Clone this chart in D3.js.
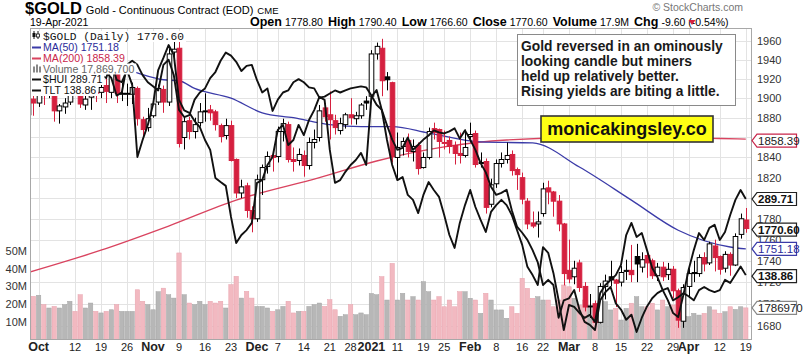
<!DOCTYPE html>
<html><head><meta charset="utf-8">
<script src="https://cdn.jsdelivr.net/npm/d3@7"></script>
<style>body{margin:0;background:#fff}svg{display:block}text{font-family:"Liberation Sans",Arial,sans-serif}</style>
</head><body>
<svg id="c" width="803" height="358"></svg>
<script>
const dates = ["2020-09-29","2020-09-30",
"2020-10-01","2020-10-02","2020-10-05","2020-10-06","2020-10-07","2020-10-08","2020-10-09","2020-10-12","2020-10-13","2020-10-14","2020-10-15","2020-10-16","2020-10-19","2020-10-20","2020-10-21","2020-10-22","2020-10-23","2020-10-26","2020-10-27","2020-10-28","2020-10-29","2020-10-30",
"2020-11-02","2020-11-03","2020-11-04","2020-11-05","2020-11-06","2020-11-09","2020-11-10","2020-11-11","2020-11-12","2020-11-13","2020-11-16","2020-11-17","2020-11-18","2020-11-19","2020-11-20","2020-11-23","2020-11-24","2020-11-25","2020-11-27","2020-11-30",
"2020-12-01","2020-12-02","2020-12-03","2020-12-04","2020-12-07","2020-12-08","2020-12-09","2020-12-10","2020-12-11","2020-12-14","2020-12-15","2020-12-16","2020-12-17","2020-12-18","2020-12-21","2020-12-22","2020-12-23","2020-12-24","2020-12-28","2020-12-29","2020-12-30","2020-12-31",
"2021-01-04","2021-01-05","2021-01-06","2021-01-07","2021-01-08","2021-01-11","2021-01-12","2021-01-13","2021-01-14","2021-01-15","2021-01-19","2021-01-20","2021-01-21","2021-01-22","2021-01-25","2021-01-26","2021-01-27","2021-01-28","2021-01-29",
"2021-02-01","2021-02-02","2021-02-03","2021-02-04","2021-02-05","2021-02-08","2021-02-09","2021-02-10","2021-02-11","2021-02-12","2021-02-16","2021-02-17","2021-02-18","2021-02-19","2021-02-22","2021-02-23","2021-02-24","2021-02-25","2021-02-26",
"2021-03-01","2021-03-02","2021-03-03","2021-03-04","2021-03-05","2021-03-08","2021-03-09","2021-03-10","2021-03-11","2021-03-12","2021-03-15","2021-03-16","2021-03-17","2021-03-18","2021-03-19","2021-03-22","2021-03-23","2021-03-24","2021-03-25","2021-03-26","2021-03-29","2021-03-30","2021-03-31",
"2021-04-01","2021-04-05","2021-04-06","2021-04-07","2021-04-08","2021-04-09","2021-04-12","2021-04-13","2021-04-14","2021-04-15","2021-04-16","2021-04-19"];

const open = [1883,1899,
1895,1913,1905,1919,1887,1891,1896,1930,1924,1893,1901,1905,1906,1913,1906,1926,1905,1905,1904,1910,1878,1870,
1882,1896,1909,1896,1948,1952,1860,1877,1866,1875,1887,1888,1886,1872,1862,1872,1838,1805,1812,1788,
1780,1818,1831,1842,1841,1866,1873,1838,1837,1842,1832,1855,1860,1890,1883,1877,1867,1873,1883,1879,1882,1897,
1902,1946,1952,1922,1916,1840,1851,1857,1846,1852,1830,1840,1869,1868,1855,1857,1852,1844,1842,
1861,1864,1835,1836,1794,1814,1834,1838,1843,1828,1820,1797,1776,1775,1785,1810,1806,1797,1775,
1731,1725,1738,1716,1698,1700,1683,1716,1725,1722,1720,1730,1731,1744,1734,1745,1740,1726,1734,1727,1732,1712,1684,
1716,1729,1728,1743,1738,1754,1744,1733,1746,1736,1765,1778.8];
const high = [1903,1904,
1917,1920,1921,1926,1894,1900,1933,1936,1925,1911,1909,1913,1922,1921,1931,1927,1916,1915,1916,1912,1881,1890,
1898,1914,1913,1952,1965,1966,1881,1881,1880,1895,1905,1893,1888,1874,1879,1877,1839,1818,1815,1792,
1823,1833,1846,1847,1871,1879,1876,1850,1849,1847,1860,1868,1893,1895,1907,1883,1880,1885,1900,1886,1895,1902,
1950,1958,1962,1927,1917,1865,1860,1864,1858,1855,1845,1870,1875,1869,1867,1861,1856,1865,1868,
1875,1867,1845,1839,1819,1838,1845,1855,1847,1830,1825,1800,1787,1787,1815,1817,1807,1803,1776,
1760,1740,1741,1720,1709,1703,1719,1727,1740,1723,1735,1741,1755,1756,1748,1747,1742,1738,1739,1738,1735,1714,1718,
1733,1740,1746,1748,1758,1760,1745,1749,1748,1766,1785,1790.4];
const low = [1876,1882,
1891,1893,1900,1876,1874,1884,1893,1918,1890,1888,1888,1896,1900,1895,1900,1895,1897,1892,1894,1872,1860,1866,
1880,1893,1885,1892,1938,1850,1848,1858,1859,1871,1876,1877,1867,1855,1858,1836,1800,1800,1781,1767,
1777,1803,1824,1826,1835,1856,1835,1826,1832,1821,1828,1849,1856,1876,1858,1863,1863,1869,1873,1873,1879,1888,
1900,1940,1902,1908,1835,1817,1842,1840,1836,1823,1829,1838,1858,1840,1848,1844,1833,1834,1840,
1855,1830,1830,1785,1791,1810,1830,1834,1822,1808,1794,1770,1771,1762,1782,1794,1782,1768,1717,
1719,1718,1711,1693,1687,1677,1682,1704,1716,1697,1716,1722,1720,1720,1729,1724,1723,1721,1721,1722,1705,1678,1678,
1706,1720,1725,1730,1736,1730,1727,1729,1726,1735,1761,1766.6];
const close = [1899,1895,
1916,1907,1920,1887,1892,1895,1930,1925,1894,1899,1908,1906,1911,1907,1929,1905,1905,1905,1911,1879,1868,1879,
1894,1910,1896,1946,1951,1854,1876,1866,1873,1886,1887,1885,1873,1861,1872,1837,1805,1811,1788,1780,
1818,1830,1841,1840,1866,1874,1838,1836,1843,1832,1855,1858,1887,1881,1878,1870,1874,1883,1880,1882,1893,1895,
1946,1954,1918,1919,1841,1850,1856,1846,1851,1829,1840,1866,1865,1856,1855,1851,1844,1842,1850,
1863,1833,1835,1791,1813,1834,1838,1842,1827,1823,1799,1775,1773,1777,1809,1806,1797,1775,1728,
1723,1733,1715,1697,1698,1683,1716,1721,1722,1719,1729,1731,1727,1737,1741,1738,1726,1734,1725,1732,1712,1685,1715,
1728,1728,1743,1737,1756,1743,1732,1746,1736,1763,1780,1770.6];
// volume in millions
const volume = [22,24.4,
25,19.7,17.8,18.7,17.8,19.7,21.6,15.9,25.3,17.8,20.6,15.9,15,15.9,16.8,19.7,15.9,15.9,15.9,28.1,21.6,19.7,
16.8,27,29,25.3,23.4,48.9,25.3,20.6,19.7,21.6,19.7,21.6,20.6,21.6,17.8,31,35.7,23.4,27.2,23.4,
18.7,18.7,17.8,15.9,16.8,18.7,21.6,15,15.9,15.9,18.7,19.7,20.6,18.7,22.5,16.8,13.1,14,19.7,14,15,14,
26,25.3,35.5,22.3,43,22.3,26.1,22.3,24.2,22.3,32.7,27,22.3,24.2,18.5,22.3,18.5,27,27,
23.3,22.3,14.8,26.1,22.3,16.7,16.7,12,18.5,14.8,34.6,28.9,23.3,24.2,22.3,22.3,18.5,22.3,30.8,
29.8,23.3,19.5,22.3,18.5,20.5,22.3,21.4,16.7,17.6,11,17.6,20.5,24.2,18.5,18.5,20.5,16.7,22.3,18.5,19.5,13.8,16.7,
12.9,14.8,13.8,14.8,18.5,16.7,14.8,15.7,18.5,17,18.5,17.87];
const hui = [334.9,333.1,
336.0,333.8,338.5,332.3,334.5,336.7,344.0,343.3,333.1,335.3,334.5,336.7,334.9,333.8,339.6,333.1,332.3,336.7,331.3,305.0,311.2,316.7,
324.0,336.7,341.1,345.8,342.2,325.8,322.0,321.1,318.1,315.9,311.2,307.6,297.4,295.9,294.5,283.2,273.7,276.6,278.4,281.0,
295.6,296.6,302.1,305.0,314.9,316.7,309.4,311.2,316.7,313.0,318.5,322.1,326.9,325.8,307.6,295.6,296.6,299.6,302.1,303.9,306.5,302.1,
326.9,329.4,322.1,311.2,302.1,296.6,297.7,291.2,289.4,284.6,291.2,295.9,293.0,290.5,283.9,276.6,271.9,281.0,287.5,
293.0,286.8,282.1,277.7,285.0,287.5,289.4,287.5,283.9,278.4,273.0,265.0,262.0,258.4,272.2,270.1,262.8,252.9,242.0,
251.1,250.4,248.2,246.4,247.5,244.9,255.5,258.4,260.2,262.0,265.7,276.6,281.0,275.9,277.3,271.1,264.6,261.3,256.6,252.9,248.2,246.7,254.8,
263.9,271.1,277.3,274.8,279.2,280.3,274.8,277.7,283.9,289.4,293.0,289.71];
const tlt = [162.6,162.0,
161.6,160.8,159.7,159.9,158.9,159.2,158.9,159.1,160.4,160.8,160.4,160.1,159.6,158.7,158.1,156.4,156.7,159.4,159.8,159.4,158.4,157.7,
157.3,156.9,159.4,159.9,158.4,155.0,154.3,154.5,156.0,156.7,157.1,158.1,158.7,159.8,160.6,160.3,159.7,158.8,159.3,159.4,
157.9,156.7,157.1,154.9,156.0,156.7,156.9,157.7,158.0,157.7,157.2,157.1,156.2,156.3,156.6,156.9,156.7,156.9,157.1,157.2,157.3,157.2,
156.4,155.5,155.0,153.5,152.1,151.1,151.3,152.3,151.1,151.6,152.1,152.5,153.0,152.8,152.7,152.9,153.2,152.2,153.0,
152.1,151.1,149.8,148.9,147.5,146.7,146.9,147.2,145.2,143.6,143.0,142.3,141.3,140.1,137.9,138.4,137.9,134.7,136.4,
136.6,137.4,135.5,134.3,134.0,133.5,136.4,137.2,137.7,136.1,135.5,134.5,135.0,133.3,134.7,135.8,136.6,137.1,137.4,137.6,136.4,136.7,137.1,
136.8,136.4,137.4,137.7,137.4,137.2,137.4,138.4,138.1,138.9,139.7,138.86];

const ma50Dates = ["2020-09-29","2020-10-12","2020-10-26","2020-11-04","2020-11-09","2020-11-12","2020-11-23","2020-12-02","2020-12-10","2020-12-21","2020-12-30","2021-01-08","2021-01-20","2021-02-03","2021-02-18","2021-03-03","2021-03-17","2021-03-30","2021-04-14","2021-04-19"];
const ma50Values = [1945,1938,1929,1919,1918,1910,1900,1885,1880,1873,1871,1871,1864.5,1855.5,1854.5,1830.5,1798,1769,1753,1751.18];
const ma200Dates = ["2020-09-29","2020-10-19","2020-11-05","2020-11-24","2020-12-17","2021-01-05","2021-01-25","2021-02-10","2021-03-05","2021-04-01","2021-04-12","2021-04-19"];
const ma200Values = [1729,1750,1773,1798,1820,1836.5,1850.5,1857.5,1860,1860,1859,1858.39];

const tickDates = ["2020-10-01","2020-10-12","2020-10-19","2020-10-26","2020-11-02","2020-11-09","2020-11-16","2020-11-23","2020-12-01","2020-12-07","2020-12-14","2020-12-21","2020-12-28","2021-01-04","2021-01-11","2021-01-19","2021-01-25","2021-02-01","2021-02-08","2021-02-16","2021-02-22","2021-03-01","2021-03-08","2021-03-15","2021-03-22","2021-03-29","2021-04-01","2021-04-12","2021-04-19"];
const tickLabels = ["Oct","12","19","26","Nov","9","16","23","Dec","7","14","21","28","2021","11","19","25","Feb","8","16","22","Mar","8","15","22","29","Apr","12","19"];
const priceTicks = [1680,1700,1720,1740,1760,1780,1800,1820,1840,1860,1880,1900,1920,1940,1960];
const priceTickLabels = ["1680","1700","1720","1740","1760","1780","","1820","1840","","1880","1900","1920","1940","1960"];
const volTicks = [10,20,30,40,50];
const volTickLabels = ["10M","20M","30M","40M","50M"];
const noteLines = ["Gold reversed in an ominously","looking candle but miners","held up relatively better.","Rising yields are biting a little."];

const svg = d3.select("#c");
const L = 30, R = 752, T = 28, B = 340;
const x = d3.scalePoint().domain(dates).range([28.2, 745.8]);
const y = d3.scaleLog().domain([1667, 1973.5]).range([B, T]);
const yv = d3.scaleLinear().domain([0, 50]).range([339.5, 251]);
const yh = d3.scaleLinear().domain([242, 352]).range([330, 28]);
const yt = d3.scaleLinear().domain([133.5, 163]).range([330, 28]);

svg.append("defs").append("clipPath").attr("id","clip").append("rect")
  .attr("x",L).attr("y",T).attr("width",R-L).attr("height",B-T);

// gridlines
const grid = svg.append("g").attr("stroke","#e3e3e3").attr("stroke-width",1);
grid.selectAll(".h").data(priceTicks).join("line")
  .attr("x1",L).attr("x2",R).attr("y1",d=>Math.round(y(d))+0.5).attr("y2",d=>Math.round(y(d))+0.5);
grid.selectAll(".v").data(tickDates).join("line")
  .attr("x1",d=>Math.round(x(d))+0.5).attr("x2",d=>Math.round(x(d))+0.5).attr("y1",T).attr("y2",B);

const plot = svg.append("g").attr("clip-path","url(#clip)");
const RED = "#d5203f";
const isDown = i => i>0 ? close[i] < close[i-1] : close[i] < open[i];

// volume
plot.append("g").selectAll("rect").data(dates).join("rect")
  .attr("x",d=>x(d)-2.2).attr("width",4.4)
  .attr("y",(d,i)=>yv(volume[i])).attr("height",(d,i)=>yv(0)-yv(volume[i])+2)
  .attr("fill",(d,i)=>isDown(i)?"#f2b9c1":"#b7b7b7")
  .attr("stroke",(d,i)=>isDown(i)?"#e8a3ae":"#a5a5a5").attr("stroke-width",0.5);

// moving averages
const line = d3.line().curve(d3.curveMonotoneX);
plot.append("path").attr("d", line(ma200Dates.map((d,i)=>[x(d), y(ma200Values[i])])))
  .attr("fill","none").attr("stroke","#d9435f").attr("stroke-width",1.3);
plot.append("path").attr("d", line(ma50Dates.map((d,i)=>[x(d), y(ma50Values[i])])))
  .attr("fill","none").attr("stroke","#3b3ba8").attr("stroke-width",1.3);

// candles
const cg = plot.append("g");
dates.forEach((d,i)=>{
  const col = isDown(i) ? RED : "#000";
  const cx = Math.round(x(d))+0.5;
  const filled = close[i] < open[i];
  cg.append("line").attr("x1",cx).attr("x2",cx).attr("y1",y(high[i])).attr("y2",y(low[i]))
    .attr("stroke",col).attr("stroke-width",1);
  const top = y(Math.max(open[i],close[i])), bot = y(Math.min(open[i],close[i]));
  cg.append("rect").attr("x",cx-2.3).attr("width",4.6).attr("y",top).attr("height",Math.max(1,bot-top))
    .attr("fill",filled?col:"#fff").attr("stroke",col).attr("stroke-width",1);
});

// overlays
const lin = d3.line();
plot.append("path").attr("d", lin(dates.map((d,i)=>[x(d), yt(tlt[i])])))
  .attr("fill","none").attr("stroke","#111").attr("stroke-width",1.9).attr("stroke-linejoin","round");
plot.append("path").attr("d", lin(dates.map((d,i)=>[x(d), yh(hui[i])])))
  .attr("fill","none").attr("stroke","#111").attr("stroke-width",1.9).attr("stroke-linejoin","round");

// frame
svg.append("rect").attr("x",L+0.5).attr("y",T+0.5).attr("width",R-L-1).attr("height",B-T-1)
  .attr("fill","none").attr("stroke","#a8a8a8");

// legend
const leg = svg.append("g");
const legRows = [
  {t:"$GOLD (Daily) 1770.60", c:"#111", y:40, mono:true},
  {t:"MA(50) 1751.18", c:"#2b2b9a", y:51, icon:"#3b3ba8"},
  {t:"MA(200) 1858.39", c:"#c9254a", y:62, icon:"#d9435f"},
  {t:"Volume 17,869,700", c:"#666", y:72.5, vol:true},
  {t:"$HUI 289.71", c:"#111", y:83, icon:"#111"},
  {t:"TLT 138.86", c:"#111", y:94, icon:"#111"}
];
legRows.forEach(r=>{
  const g = leg.append("g");
  const bg = g.append("rect").attr("fill","#fff");
  const tx = g.append("text").attr("x",43).attr("y",r.y).attr("fill",r.c)
    .style("font-size", r.mono? "11.2px":"10.6px")
    .style("font-family", r.mono? "'Liberation Mono','DejaVu Sans Mono',monospace" : null)
    .text(r.t);
  const w = tx.node().getComputedTextLength();
  bg.attr("x",31).attr("y",r.y-9).attr("width",w+14).attr("height",11);
  if (r.icon) g.append("line").attr("x1",32).attr("x2",41).attr("y1",r.y-3.5).attr("y2",r.y-3.5).attr("stroke",r.icon).attr("stroke-width",2);
  if (r.vol) [0,1,2].forEach(k=>g.append("rect").attr("x",33+k*3).attr("y",r.y-8+(k===1?0:2)).attr("width",2).attr("height",k===1?8:6).attr("fill","#888"));
  if (r.mono) {
    g.append("line").attr("x1",34).attr("x2",34).attr("y1",r.y-9).attr("y2",r.y-1).attr("stroke","#111");
    g.append("rect").attr("x",32.5).attr("y",r.y-7).attr("width",3).attr("height",4).attr("fill","#111");
    g.append("line").attr("x1",38).attr("x2",38).attr("y1",r.y-9).attr("y2",r.y-1).attr("stroke","#111");
    g.append("rect").attr("x",36.5).attr("y",r.y-6).attr("width",3).attr("height",3).attr("fill","#fff").attr("stroke","#111").attr("stroke-width",0.8);
  }
});

// annotation
svg.append("rect").attr("x",517.5).attr("y",34.5).attr("width",218).attr("height",71)
  .attr("fill","#fff").attr("stroke","#8a8a8a");
svg.append("g").selectAll("text").data(noteLines).join("text")
  .attr("x",521).attr("y",(d,i)=>50.5+i*15.3).attr("fill","#1a1a1a")
  .style("font-size","13.8px").style("font-weight","bold").text(d=>d);
svg.append("rect").attr("x",541).attr("y",116).attr("width",172).attr("height",26)
  .attr("fill","#ffff14").attr("stroke","#333").attr("stroke-width",1.6);
svg.append("text").attr("x",627).attr("y",135).attr("text-anchor","middle")
  .style("font-size","18px").style("font-weight","bold").attr("fill","#111").text("monicakingsley.co");

// right axis
svg.append("g").selectAll("text").data(priceTicks).join("text")
  .attr("x",757).attr("y",d=>y(d)+4).style("font-size","11px").attr("fill","#333").text((d,i)=>priceTickLabels[i]);
// left volume axis
svg.append("g").selectAll("text").data(volTicks).join("text")
  .attr("x",27).attr("y",d=>yv(d)+4).attr("text-anchor","end").style("font-size","11px").attr("fill","#333")
  .text((d,i)=>volTickLabels[i]);
// bottom axis
const boldTick = l => isNaN(+l) || l==="2021";
svg.append("g").selectAll("text").data(tickDates).join("text")
  .attr("x",d=>x(d)).attr("y",351).attr("text-anchor","middle")
  .style("font-size",(d,i)=>boldTick(tickLabels[i])?"12.5px":"11px")
  .style("font-weight",(d,i)=>boldTick(tickLabels[i])?"bold":"normal")
  .attr("fill","#222").text((d,i)=>tickLabels[i]);

// value tags
const tags = [
  {v:"1858.39", y:y(1858.39)+1.5, stroke:"#c9254a", color:"#222", bold:false},
  {v:"289.71", y:yh(289.71), stroke:"#222", color:"#111", bold:true},
  {v:"1770.60", y:y(1770.6)+1, stroke:"#222", color:"#111", bold:true},
  {v:"1751.18", y:y(1751.18), stroke:"#3b3ba8", color:"#2b2b9a", bold:false},
  {v:"138.86", y:yt(138.86)+1, stroke:"#222", color:"#111", bold:true},
  {v:"1786970", y:yv(17.87), stroke:"#888", color:"#222", bold:false}
];
const tg = svg.append("g");
tags.forEach(t=>{
  const c = t.y, h = 6.5;
  tg.append("path").attr("d",`M752,${c} L757,${c-h} L796.5,${c-h} L796.5,${c+h} L757,${c+h} Z`)
    .attr("fill","#fff").attr("stroke",t.stroke).attr("stroke-width",1.2);
  tg.append("text").attr("x",758).attr("y",c+4).attr("fill",t.color)
    .style("font-size","11.5px").style("font-weight",t.bold?"bold":"normal").text(t.v);
});

// header
const hd = svg.append("g");
const t1 = hd.append("text").attr("x",25).attr("y",14);
t1.append("tspan").style("font-size","16.5px").style("font-weight","bold").text("$GOLD");
t1.append("tspan").style("font-size","11px").attr("dx",4).text("Gold - Continuous Contract (EOD)");
t1.append("tspan").style("font-size","9.5px").attr("dx",4).text("CME");
hd.append("text").attr("x",743).attr("y",11).attr("text-anchor","end").style("font-size","10.5px").attr("fill","#777").text("© StockCharts.com");
hd.append("text").attr("x",30).attr("y",26).style("font-size","10.5px").text("19-Apr-2021");
const stats = [["Open","1778.80"],["High","1790.40"],["Low","1766.60"],["Close","1770.60"],["Volume","17.9M"],["Chg","-9.60 (-0.54%)"]];
const t2 = hd.append("text").attr("x",250).attr("y",26);
stats.forEach((s,i)=>{
  t2.append("tspan").attr("dx", i?5:0).style("font-size","12.5px").style("font-weight","bold").text(s[0]);
  t2.append("tspan").attr("dx",3).style("font-size","10.5px").text(s[1]);
});
const ew = 250 + t2.node().getComputedTextLength();
hd.append("path").attr("d",`M${ew+3},20 L${ew+10},20 L${ew+6.5},25 Z`).attr("fill","#d5203f");
</script>
</body></html>
